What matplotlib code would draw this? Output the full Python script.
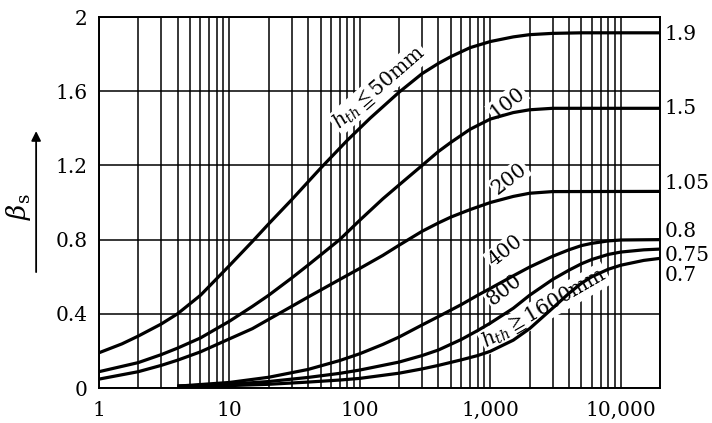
import matplotlib
matplotlib.use('Agg')
import matplotlib.pyplot as plt
import matplotlib.ticker as mticker
import matplotlib.transforms as mtransforms

plt.rcParams['font.family'] = ['DejaVu Serif', 'Noto Sans CJK JP']
plt.rcParams['mathtext.fontset'] = 'dejavuserif'

# curve data (x on log scale)
x_50 = [1, 1.5, 2, 3, 4, 6, 8, 10, 15, 20, 30, 50, 80, 120, 200, 300, 400, 500, 700, 1000, 1500, 2000, 3000, 5000, 20000]
y_50 = [0.19, 0.238, 0.28, 0.345, 0.40, 0.50, 0.59, 0.66, 0.79, 0.885, 1.015, 1.185, 1.335, 1.455, 1.595, 1.695, 1.75, 1.787, 1.835, 1.868, 1.893, 1.905, 1.912, 1.915, 1.915]

x_100 = [1, 2, 3, 4, 6, 10, 15, 20, 30, 40, 70, 100, 150, 200, 300, 400, 500, 700, 1000, 1500, 2000, 3000, 20000]
y_100 = [0.088, 0.137, 0.18, 0.215, 0.27, 0.36, 0.44, 0.50, 0.593, 0.662, 0.80, 0.905, 1.02, 1.095, 1.20, 1.275, 1.325, 1.395, 1.45, 1.485, 1.50, 1.508, 1.508]

x_200 = [1, 2, 3, 4, 6, 10, 15, 20, 30, 40, 70, 100, 150, 200, 300, 400, 500, 700, 1000, 1500, 2000, 3000, 20000]
y_200 = [0.048, 0.088, 0.122, 0.15, 0.195, 0.265, 0.32, 0.37, 0.44, 0.49, 0.585, 0.645, 0.715, 0.77, 0.845, 0.89, 0.922, 0.962, 1.0, 1.033, 1.05, 1.059, 1.06]

x_400 = [4, 10, 20, 40, 70, 100, 150, 200, 300, 400, 600, 800, 1000, 1500, 2000, 3000, 4000, 5000, 6000, 8000, 10000, 20000]
y_400 = [0.01, 0.03, 0.058, 0.10, 0.148, 0.185, 0.235, 0.275, 0.34, 0.385, 0.45, 0.50, 0.537, 0.605, 0.652, 0.71, 0.745, 0.768, 0.78, 0.793, 0.798, 0.80]

x_800 = [4, 10, 20, 40, 70, 100, 200, 300, 400, 600, 800, 1000, 1500, 2000, 3000, 4000, 5000, 6000, 8000, 10000, 15000, 20000]
y_800 = [0.01, 0.02, 0.035, 0.057, 0.079, 0.097, 0.14, 0.175, 0.205, 0.262, 0.31, 0.35, 0.43, 0.50, 0.585, 0.635, 0.67, 0.693, 0.72, 0.733, 0.745, 0.749]

x_1600 = [4, 10, 20, 40, 70, 100, 200, 300, 400, 600, 800, 1000, 1500, 2000, 3000, 4000, 5000, 6000, 8000, 10000, 15000, 20000]
y_1600 = [0.01, 0.013, 0.02, 0.032, 0.043, 0.052, 0.08, 0.103, 0.122, 0.152, 0.175, 0.198, 0.258, 0.32, 0.43, 0.51, 0.565, 0.60, 0.64, 0.662, 0.688, 0.699]

curve_labels = [r'$h_{th}\leqq$50mm', '100', '200', '400', '800', r'$h_{th}\geqq$1600mm']
end_labels = ['1.9', '1.5', '1.05', '0.8', '0.75', '0.7']

x_ticks = [1, 10, 100, 1000, 10000]
y_ticks = [0, 0.4, 0.8, 1.2, 1.6, 2]

curves = [(x_50, y_50), (x_100, y_100), (x_200, y_200),
          (x_400, y_400), (x_800, y_800), (x_1600, y_1600)]

# label placement (layout only)
label_pos = [(140, 1.62), (1350, 1.54), (1400, 1.13), (1300, 0.74), (1280, 0.53), (2600, 0.43)]
label_rot = [41, 38, 38, 38, 38, 30]
end_offset = [-0.01, 0.0, 0.04, 0.043, -0.032, -0.09]

fig = plt.figure(figsize=(7.12, 4.23), dpi=100)
ax = fig.add_axes([0.139, 0.0827, 0.788, 0.877])

ax.set_xscale('log')
ax.set_xlim(1, 20000)
ax.set_ylim(0, 2)

ax.xaxis.set_major_locator(mticker.FixedLocator(x_ticks))
ax.xaxis.set_minor_locator(mticker.LogLocator(base=10, subs=range(2, 10), numticks=20))
ax.xaxis.set_major_formatter(mticker.FuncFormatter(lambda v, p: f"{int(round(v)):,}"))
ax.xaxis.set_minor_formatter(mticker.NullFormatter())
ax.set_yticks(y_ticks)
ax.yaxis.set_major_formatter(mticker.FuncFormatter(lambda v, p: f"{v:g}"))

ax.grid(which='both', color='black', linewidth=1.1)
ax.set_axisbelow(True)
ax.tick_params(which='both', length=0, labelsize=14.5)
ax.tick_params(axis='x', pad=9)
ax.tick_params(axis='y', pad=8)
for sp in ax.spines.values():
    sp.set_linewidth(1.4)

for xs, ys in curves:
    ax.plot(xs, ys, color='black', linewidth=2.3, zorder=4,
            solid_capstyle='butt', solid_joinstyle='round')

for txt, (lx, ly), rot in zip(curve_labels, label_pos, label_rot):
    ax.text(lx, ly, txt, rotation=rot, rotation_mode='anchor', ha='center', va='center',
            fontsize=14.5, zorder=3,
            bbox=dict(facecolor='white', edgecolor='none', pad=1.0))

trans = mtransforms.blended_transform_factory(ax.transAxes, ax.transData)
for txt, (xs, ys), off in zip(end_labels, curves, end_offset):
    ax.text(1.008, ys[-1] + off, txt, transform=trans, ha='left', va='center', fontsize=14.5)

# y label with upward arrow
ax.text(-0.143, 0.49, r'$\beta_{\mathrm{s}}$', transform=ax.transAxes, rotation=90,
        ha='center', va='center', fontsize=19)
ax.annotate('', xy=(-0.112, 0.70), xytext=(-0.112, 0.305), xycoords='axes fraction',
            textcoords='axes fraction', annotation_clip=False,
            arrowprops=dict(arrowstyle='-|>', color='black', lw=1.3, mutation_scale=14))

fig.savefig('out.png', dpi=100)
